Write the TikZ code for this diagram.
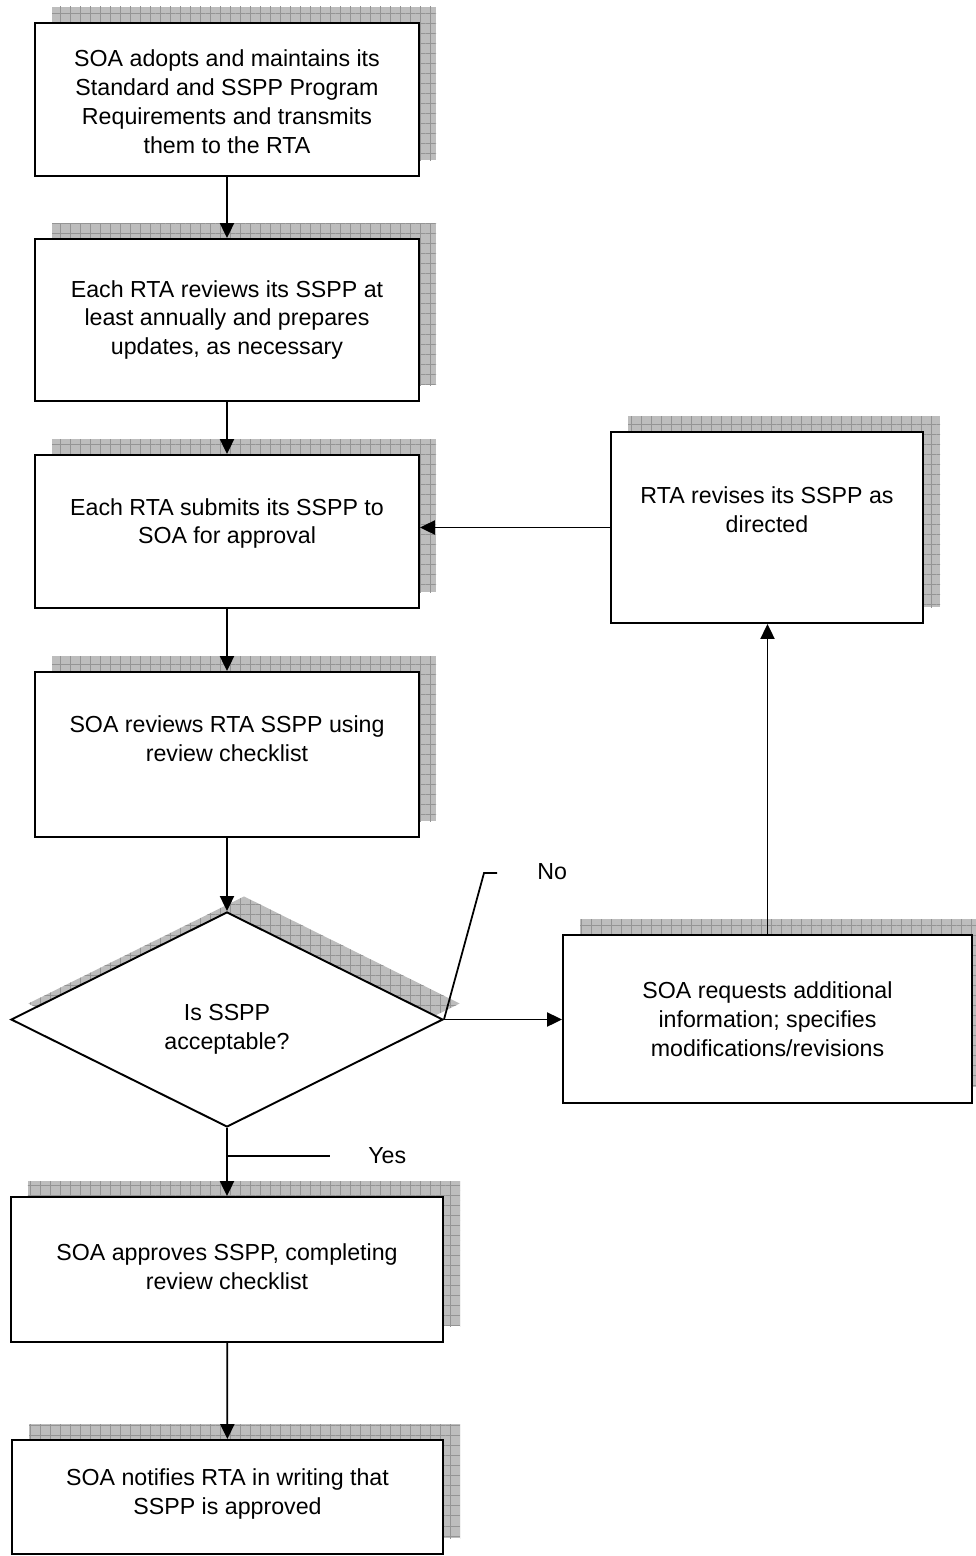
\documentclass[tikz,border=0pt]{standalone}
\usepackage{fontspec}
\setmainfont{Liberation Sans}
\usetikzlibrary{arrows.meta,positioning,shapes.geometric,shadows,patterns.meta}

\begin{document}
\begin{tikzpicture}[
  box/.style={draw, line width=1.1pt, fill=white, inner sep=4pt,
    copy shadow={shadow xshift=0.34cm, shadow yshift=0.32cm, draw=none, fill=black!26,
      postaction={pattern={Hatch[angle=0, distance=5.7pt, line width=0.5pt]}, pattern color=black!42}}},
  decision/.style={box, diamond, inner sep=0pt},
  inset/.style={align=center, inner sep=0pt, font=\fontsize{13.2}{16.4}\selectfont},
  arrow/.style={-{Triangle[length=8.5pt, width=8pt]}, line width=1pt},
  callout/.style={line width=1pt},
  tag/.style={font=\fontsize{13.2}{16}\selectfont, inner sep=0pt}
]
\useasboundingbox (0,0) rectangle (19.5,-31.12);

% Main column
\node[box, minimum width=7.68cm, minimum height=3.06cm,
  label={[inset, yshift=-0.04cm]center:{SOA adopts and maintains its\\Standard and SSPP Program\\Requirements and transmits\\them to the RTA}}] (adopt) at (4.54,-1.99) {};
\node[box, minimum width=7.68cm, minimum height=3.24cm,
  label={[inset]center:{Each RTA reviews its SSPP at\\least annually and prepares\\updates, as necessary}}] (annual) at (4.54,-6.4) {};
\node[box, minimum width=7.68cm, minimum height=3.06cm,
  label={[inset, yshift=0.16cm]center:{Each RTA submits its SSPP to\\SOA for approval}}] (submit) at (4.54,-10.63) {};
\node[box, minimum width=7.68cm, minimum height=3.3cm,
  label={[inset, yshift=0.32cm]center:{SOA reviews RTA SSPP using\\review checklist}}] (review) at (4.54,-15.09) {};
\node[decision, minimum width=8.64cm, minimum height=4.3cm,
  label={[inset, yshift=-0.19cm]center:{Is SSPP\\acceptable?}}] (accept) at (4.54,-20.39) {};
\node[box, minimum width=8.64cm, minimum height=2.9cm,
  label={[inset, yshift=0.06cm]center:{SOA approves SSPP, completing\\review checklist}}] (approve) at (4.54,-25.39) {};
\node[box, minimum width=8.62cm, minimum height=2.28cm,
  label={[inset, yshift=0.06cm]center:{SOA notifies RTA in writing that\\SSPP is approved}}] (notify) at (4.55,-29.94) {};

% Side column
\node[box, minimum width=8.18cm, minimum height=3.36cm,
  label={[inset]center:{SOA requests additional\\information; specifies\\modifications/revisions}}] (request) at (15.35,-20.38) {};
\node[box, minimum width=6.24cm, minimum height=3.82cm,
  label={[inset, yshift=0.36cm]center:{RTA revises its SSPP as\\directed}}] (revise) at (15.34,-10.55) {};

% Answers
\node[tag, anchor=west] (nolbl) at (10.74,-17.44) {No};
\node[tag, anchor=west] (yeslbl) at (7.36,-23.12) {Yes};
\coordinate (nobend) at (9.68,-17.46);
\coordinate (noend) at (9.94,-17.46);
\coordinate (yesfoot) at (4.54,-23.12);
\coordinate (yesend) at (6.6,-23.12);

% Connections
\draw[arrow] (adopt) -- (annual);
\draw[arrow] (annual) -- (submit);
\draw[arrow] (submit) -- (review);
\draw[arrow] (review) -- (accept);
\draw[arrow] (accept.east) -- (accept.east -| request.west);
\draw[arrow] (request.north) -- (request.north |- revise.south);
\draw[arrow] (revise.west) -- (revise.west -| submit.east);
\draw[arrow] (accept) -- (approve);
\draw[arrow] (approve) -- (notify);

\draw[callout] (accept.east) -- (nobend) -- (noend);
\draw[callout] (yesfoot) -- (yesend);

\end{tikzpicture}
\end{document}
